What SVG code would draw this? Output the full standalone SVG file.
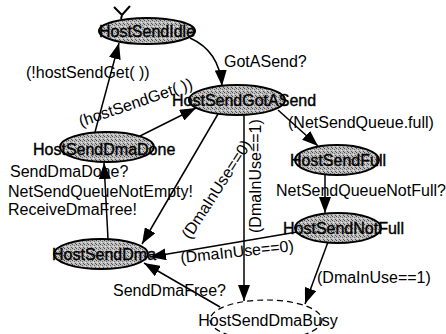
<svg xmlns="http://www.w3.org/2000/svg" width="446" height="334" viewBox="0 0 446 334">
  <style>
    .state { fill: url(#stipple); stroke: #000; stroke-width: 2; }
    .busy { fill: #fff; stroke: #000; stroke-width: 1.2; stroke-dasharray: 6 4; }
    .name { font-family: "Liberation Sans", Arial, sans-serif; font-size: 16px; fill: #000; stroke: #000; stroke-width: 0.4; }
    .plain { font-family: "Liberation Sans", Arial, sans-serif; font-size: 16px; fill: #000; }
    .edge { fill: none; stroke: #000; stroke-width: 1.5; marker-end: url(#head); }
    .lbl { font-family: "Liberation Sans", Arial, sans-serif; font-size: 16px; fill: #000; }
  </style>
  <defs>
    <pattern id="stipple" width="4" height="4" patternUnits="userSpaceOnUse">
      <rect width="4" height="4" fill="#bdbdbd"/>
      <rect x="0" y="0" width="1" height="1" fill="#4a4a4a"/>
      <rect x="2" y="1" width="1" height="1" fill="#6a6a6a"/>
      <rect x="1" y="2" width="1" height="1" fill="#e8e8e8"/>
      <rect x="3" y="3" width="1" height="1" fill="#555"/>
    </pattern>
    <marker id="head" viewBox="0 0 16 12" refX="16" refY="6" markerWidth="16" markerHeight="12" markerUnits="userSpaceOnUse" orient="auto">
      <path d="M0,0 L16,6 L0,12 z" fill="#000"/>
    </marker>
  </defs>

  <rect width="446" height="334" fill="#fff"/>

  <!-- transitions -->
  <g id="connectors">
    <path class="edge" d="M190,38 C208,46 220,60 222,86"/>
    <path class="edge" d="M95,132 L119,43"/>
    <path class="edge" d="M140,136 L196,108"/>
    <path class="edge" d="M108,239 L104,163"/>
    <path class="edge" d="M218,114 L142,244"/>
    <path class="edge" d="M244,115 L244,301"/>
    <path class="edge" d="M278,110 L318,146"/>
    <path class="edge" d="M325,175 L325,213"/>
    <path class="edge" d="M297,232 L150,257"/>
    <path class="edge" d="M328,242 L305,304"/>
    <path class="edge" d="M220,307 L144,263"/>
    <!-- entry mark above the idle state -->
    <path d="M114,7 L122,15 L130,6 M122,15 L121,19" fill="none" stroke="#000" stroke-width="2"/>

    <text class="lbl" x="224" y="67">GotASend?</text>
    <text class="lbl" x="26" y="78">(!hostSendGet( ))</text>
    <text class="lbl" transform="translate(81,127) rotate(-19)">(hostSendGet( ))</text>
    <text class="lbl" x="10" y="177">SendDmaDone?</text>
    <text class="lbl" x="8" y="197">NetSendQueueNotEmpty!</text>
    <text class="lbl" x="8" y="215">ReceiveDmaFree!</text>
    <text class="lbl" transform="translate(190,240) rotate(-57)">(DmaInUse==0)</text>
    <text class="lbl" transform="translate(261,233) rotate(-90)">(DmaInUse==1)</text>
    <text class="lbl" x="288" y="128">(NetSendQueue.full)</text>
    <text class="lbl" x="276" y="196">NetSendQueueNotFull?</text>
    <text class="lbl" transform="translate(181,263) rotate(-6)">(DmaInUse==0)</text>
    <text class="lbl" x="317" y="283">(DmaInUse==1)</text>
    <text class="lbl" x="113" y="296">SendDmaFree?</text>
  </g>

  <g id="HostSendIdle">
    <ellipse class="state" cx="147" cy="31" rx="48" ry="13"/>
    <text class="name" x="147" y="37" text-anchor="middle">HostSendIdle</text>
  </g>
  <g id="HostSendGotASend">
    <ellipse class="state" cx="237" cy="100" rx="48" ry="15"/>
    <text class="name" x="172" y="106">HostSendGotASend</text>
  </g>
  <g id="HostSendDmaDone">
    <ellipse class="state" cx="107" cy="147" rx="47" ry="15"/>
    <text class="name" x="33" y="155">HostSendDmaDone</text>
  </g>
  <g id="HostSendFull">
    <ellipse class="state" cx="337" cy="160" rx="42" ry="15"/>
    <text class="name" x="338" y="166" text-anchor="middle">HostSendFull</text>
  </g>
  <g id="HostSendNotFull">
    <ellipse class="state" cx="338" cy="228" rx="43" ry="15"/>
    <text class="name" x="283" y="234">HostSendNotFull</text>
  </g>
  <g id="HostSendDma">
    <ellipse class="state" cx="101" cy="254" rx="47" ry="15"/>
    <text class="name" x="52" y="260">HostSendDma</text>
  </g>
  <g id="HostSendDmaBusy">
    <ellipse class="busy" cx="266" cy="320" rx="56" ry="20"/>
    <text class="plain" x="268" y="326" text-anchor="middle">HostSendDmaBusy</text>
  </g>
</svg>
